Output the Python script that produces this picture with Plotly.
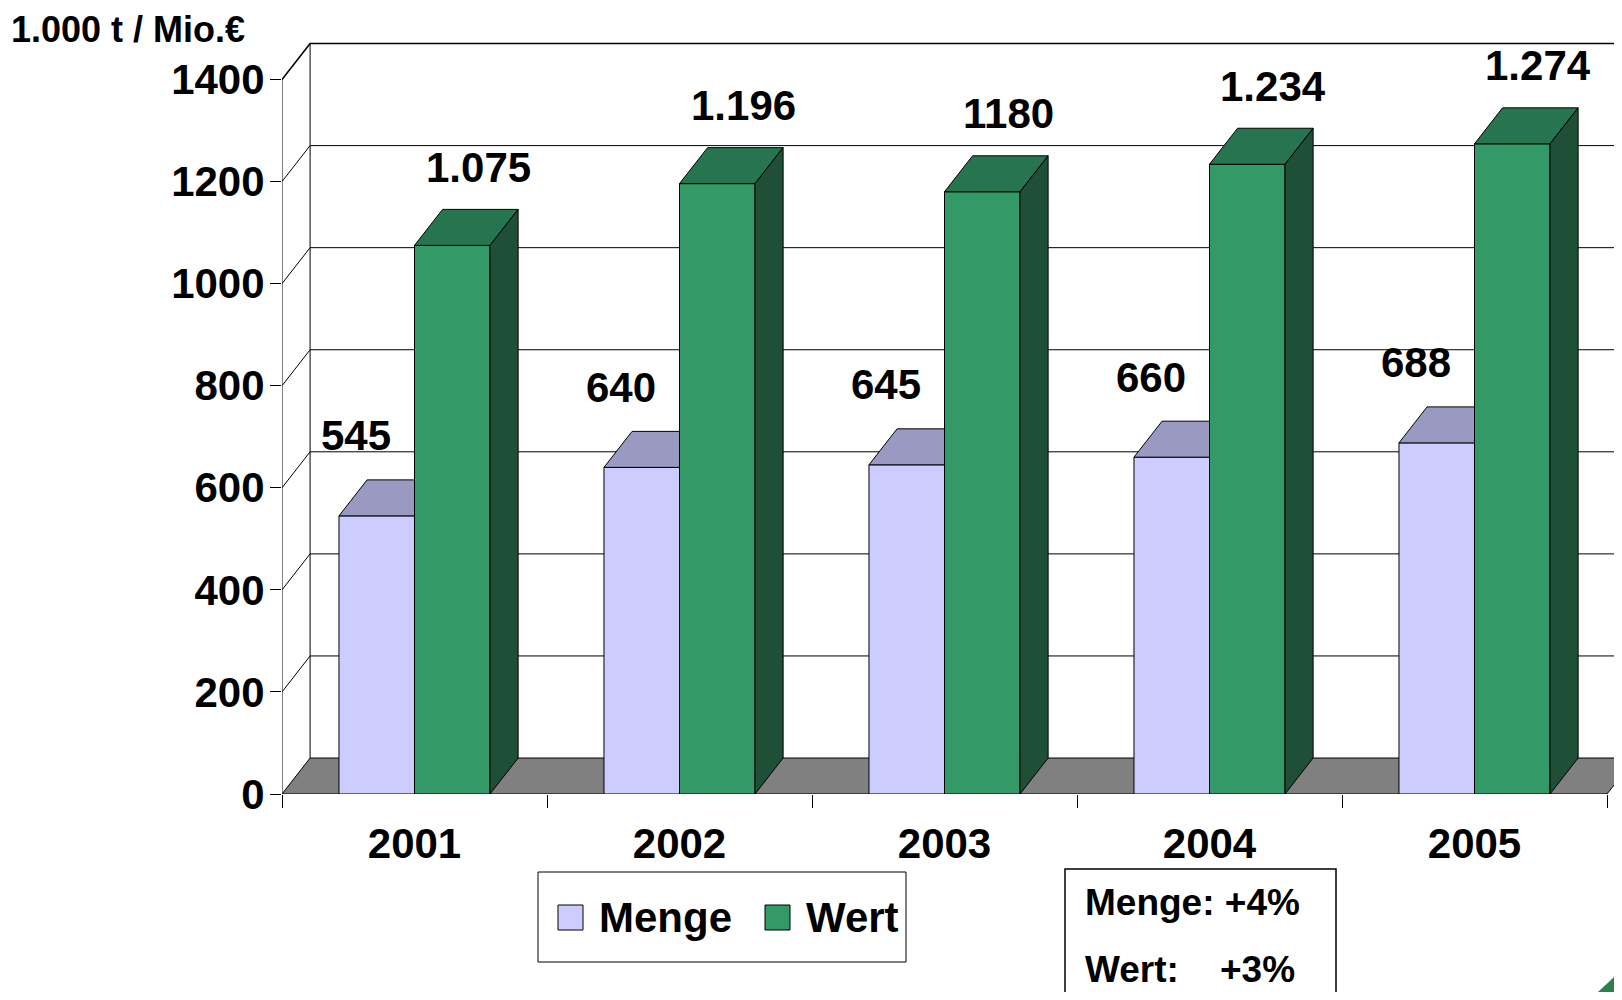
import plotly.graph_objects as go

years = ["2001", "2002", "2003", "2004", "2005"]
menge = [545, 640, 645, 660, 688]
wert = [1075, 1196, 1180, 1234, 1274]
menge_labels = ["545", "640", "645", "660", "688"]
wert_labels = ["1.075", "1.196", "1180", "1.234", "1.274"]
y_ticks = [0, 200, 400, 600, 800, 1000, 1200, 1400]
unit_label = "1.000 t / Mio.€"
note_lines = ["Menge: +4%", "Wert:\u00a0\u00a0\u00a0\u00a0+3%"]

MENGE_FRONT, MENGE_TOP = "#CCCCFF", "#9999C2"
WERT_FRONT, WERT_TOP, WERT_SIDE = "#339966", "#277550", "#1F4F36"
FLOOR = "#808080"
FONT = "Liberation Sans, Arial, sans-serif"

# the page body keeps an 8px margin, so the figure is 16px smaller than the window
PAGE_PAD = 8
W, H = 1622 - 2 * PAGE_PAD, 1000 - 2 * PAGE_PAD
LEFT, TOP, BASE = 282, 30, 794          # plot edges in window pixels
L, T, B = LEFT - PAGE_PAD, TOP - PAGE_PAD, H - (BASE - PAGE_PAD)
PX_PER_CAT = 265.0
X_MIN = -0.5
X_MAX = X_MIN + (W - L) / PX_PER_CAT
Y_MAX = 1497
BAR_W = 0.285
DX, DY = 0.106, 70.5

plot_w = W - L
plot_h = H - T - B


def px_x(p):
    return (p - LEFT) / plot_w


def px_y(p):
    return (BASE - p) / plot_h


xs = list(range(len(years)))
fig = go.Figure()

# front faces of the bars
fig.add_trace(go.Bar(x=xs, y=menge, width=BAR_W, offset=-BAR_W, name="Menge",
                     marker=dict(color=MENGE_FRONT, line=dict(color="black", width=1))))
fig.add_trace(go.Bar(x=xs, y=wert, width=BAR_W, offset=0, name="Wert",
                     marker=dict(color=WERT_FRONT, line=dict(color="black", width=1))))


def face_trace(polys, color):
    px, py = [], []
    for poly in polys:
        for a, b in poly:
            px.append(a)
            py.append(b)
        px.append(poly[0][0])
        py.append(poly[0][1])
        px.append(None)
        py.append(None)
    return go.Scatter(x=px, y=py, mode="lines", fill="toself", fillcolor=color,
                      line=dict(color="black", width=1), hoverinfo="skip", showlegend=False)


menge_tops = [[(i - BAR_W, v), (i, v), (i, v + DY), (i - BAR_W + DX, v + DY)]
              for i, v in zip(xs, menge)]
wert_tops = [[(i, v), (i + BAR_W, v), (i + BAR_W + DX, v + DY), (i + DX, v + DY)]
             for i, v in zip(xs, wert)]
wert_sides = [[(i + BAR_W, 0), (i + BAR_W, v), (i + BAR_W + DX, v + DY), (i + BAR_W + DX, DY)]
              for i, v in zip(xs, wert)]
fig.add_trace(face_trace(menge_tops, MENGE_TOP))
fig.add_trace(face_trace(wert_tops, WERT_TOP))
fig.add_trace(face_trace(wert_sides, WERT_SIDE))

# walls, floor and back gridlines
shapes = []
shapes.append(dict(type="path", layer="below", xref="x", yref="y",
                   path=f"M{X_MIN},0 L{len(years) - 0.5},0 L{len(years) - 0.5 + DX},{DY} "
                        f"L{X_MIN + DX},{DY} Z",
                   fillcolor=FLOOR, line=dict(color="black", width=1)))
shapes.append(dict(type="line", layer="below", xref="x", yref="y",
                   x0=X_MIN + DX, y0=DY, x1=X_MIN + DX, y1=y_ticks[-1] + DY,
                   line=dict(color="black", width=1)))
shapes.append(dict(type="line", layer="below", xref="x", yref="y",
                   x0=X_MIN, y0=0, x1=X_MIN, y1=y_ticks[-1],
                   line=dict(color="black", width=1)))
for v in y_ticks[1:]:
    shapes.append(dict(type="path", layer="below", xref="x", yref="y",
                       path=f"M{X_MIN},{v} L{X_MIN + DX},{v + DY} L{X_MAX + 1},{v + DY}",
                       line=dict(color="black", width=1.6 if v == y_ticks[-1] else 1)))

# custom legend
shapes.append(dict(type="rect", xref="paper", yref="paper",
                   x0=px_x(538), x1=px_x(906), y0=px_y(872), y1=px_y(962),
                   line=dict(color="black", width=1), fillcolor="white"))
for x0, col in [(558, MENGE_FRONT), (765, WERT_FRONT)]:
    shapes.append(dict(type="rect", xref="paper", yref="paper",
                       x0=px_x(x0), x1=px_x(x0 + 25), y0=px_y(905), y1=px_y(930),
                       line=dict(color="black", width=1), fillcolor=col))

# note box
shapes.append(dict(type="rect", xref="paper", yref="paper",
                   x0=px_x(1065), x1=px_x(1336), y0=px_y(869), y1=px_y(1010),
                   line=dict(color="black", width=1.5), fillcolor="white"))
# corner logo fragment
shapes.append(dict(type="path", xref="paper", yref="paper",
                   path=f"M{px_x(1598)},{px_y(992)} L{px_x(1615)},{px_y(992)} "
                        f"L{px_x(1615)},{px_y(976)} Z",
                   fillcolor="#2E7D4F", line=dict(width=0)))

label_font = dict(size=42, color="black", family=FONT, weight="bold")
annotations = []
for i, v, t in zip(xs, menge, menge_labels):
    annotations.append(dict(x=i - 0.22, y=v, text=t, showarrow=False, yshift=80,
                            font=label_font))
for i, v, t in zip(xs, wert, wert_labels):
    annotations.append(dict(x=i + 0.24, y=v, text=t, showarrow=False, yshift=78,
                            font=label_font))

annotations.append(dict(xref="paper", yref="paper", x=px_x(10), y=px_y(PAGE_PAD),
                        xanchor="left", yanchor="top", text=unit_label, showarrow=False,
                        borderpad=0,
                        font=dict(size=36, color="black", family=FONT, weight="bold")))
for x0, name in [(597, "Menge"), (804, "Wert")]:
    annotations.append(dict(xref="paper", yref="paper", x=px_x(x0), y=px_y(917),
                            xanchor="left", yanchor="middle", text=name, showarrow=False,
                            font=dict(size=42, color="black", family=FONT, weight="bold")))
for yy, line in zip([902, 969], note_lines):
    annotations.append(dict(xref="paper", yref="paper", x=px_x(1083), y=px_y(yy),
                            xanchor="left", yanchor="middle", text=line, showarrow=False,
                            font=dict(size=37, color="black", family=FONT, weight="bold")))

fig.update_layout(
    width=W, height=H,
    margin=dict(l=L, r=0, t=T, b=B),
    paper_bgcolor="white", plot_bgcolor="white",
    barmode="overlay", showlegend=False,
    shapes=shapes, annotations=annotations,
    xaxis=dict(range=[X_MIN, X_MAX], tickmode="array", tickvals=xs, ticktext=years,
               ticks="", showgrid=False, zeroline=False, showline=False,
               ticklabelstandoff=21,
               tickfont=dict(size=42, color="black", family=FONT, weight="bold"),
               minor=dict(tickmode="array", tickvals=[i - 0.5 for i in range(len(years) + 1)],
                          ticks="outside", ticklen=13, tickcolor="black", tickwidth=1,
                          showgrid=False)),
    yaxis=dict(range=[0, Y_MAX], tickmode="array", tickvals=y_ticks,
               ticks="outside", ticklen=11, tickcolor="black", tickwidth=1,
               showgrid=False, zeroline=False, showline=False,
               ticklabelstandoff=-3,
               tickfont=dict(size=42, color="black", family=FONT, weight="bold")),
)

fig.write_html("out.html")
